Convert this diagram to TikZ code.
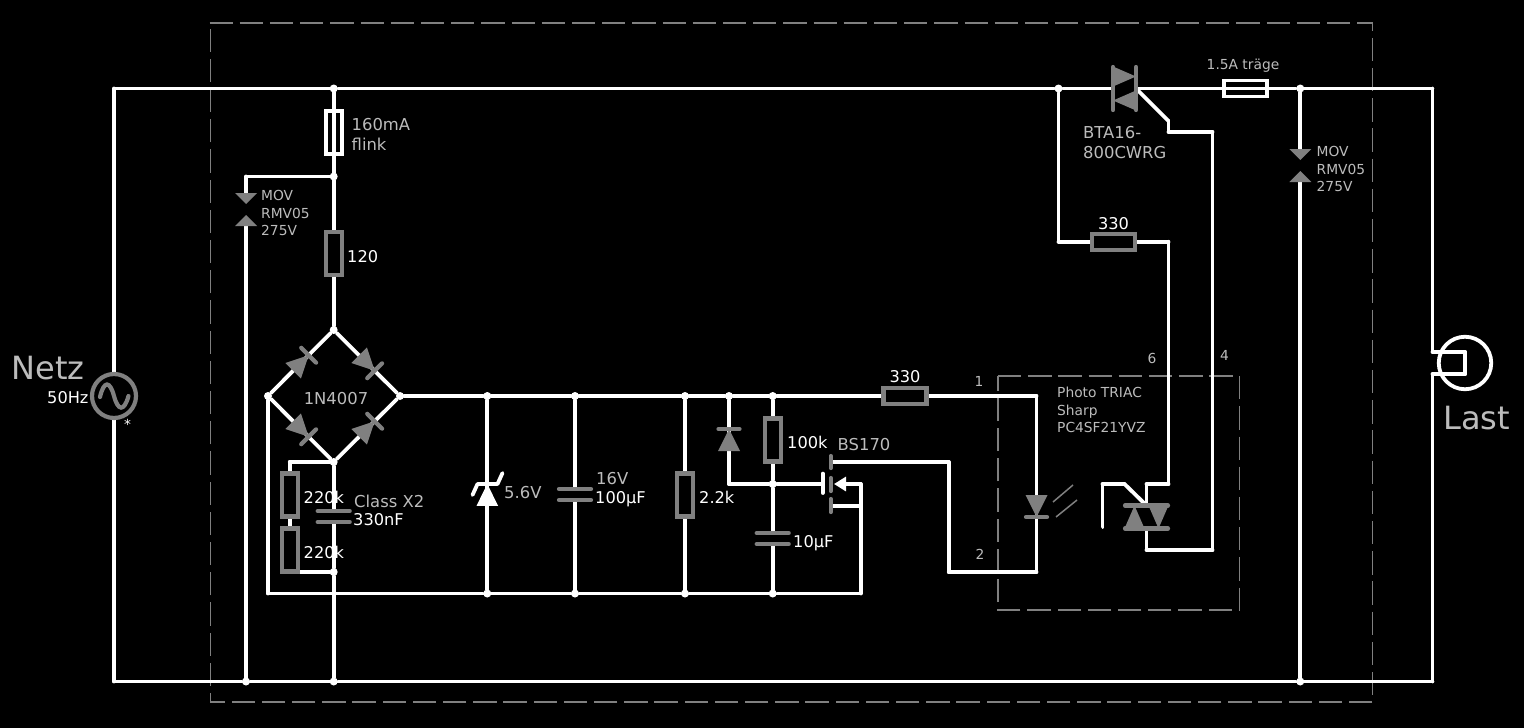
\documentclass[tikz,border=0pt]{standalone}
\usepackage{fontspec}
\setmainfont{DejaVu Sans}
\usetikzlibrary{arrows.meta, backgrounds}
\definecolor{symb}{RGB}{128, 128, 128}
\definecolor{lite}{RGB}{188, 188, 188}

\begin{document}
\begin{tikzpicture}[
   x=1pt, y=-1pt,
   wire/.style={draw=white, line width=3.8, line cap=round},
   symbar/.style={draw=symb, line width=4.2, line cap=round},
   dashbox/.style={draw=symb, line width=1.6, dash pattern=on 23.3pt off 6.9pt},
   dotj/.style={circle, fill=white, inner sep=0, minimum size=8},
   resver/.style={rectangle, draw=symb, line width=4.2, inner sep=0,
                  minimum width=16, minimum height=43},
   reshor/.style={rectangle, draw=symb, line width=4.2, inner sep=0,
                  minimum width=43, minimum height=16},
   fusever/.style={rectangle, draw=white, line width=3.8, inner sep=0,
                   minimum width=16, minimum height=43},
   fusehor/.style={rectangle, draw=white, line width=3.8, inner sep=0,
                   minimum width=43, minimum height=16},
   valtxt/.style={text=white, inner sep=0, font=\fontsize{16.2}{21}\selectfont},
   namtxt/.style={text=lite, inner sep=0, align=left, font=\fontsize{16.4}{20}\selectfont},
   smltxt/.style={text=lite, inner sep=0, align=left, font=\fontsize{13.8}{17.8}\selectfont},
   bigtxt/.style={text=lite, inner sep=0, font=\fontsize{32}{36}\selectfont},
   diode/.pic={
     \fill[symb] (-11, -11) -- (11, 0) -- (-11, 11) -- cycle;
     \draw[symbar] (11, -10.5) -- (11, 10.5);
   },
   capa/.pic={
     \draw[symbar] (-16, -5.5) -- (16, -5.5);
     \draw[symbar] (-16, 5.5) -- (16, 5.5);
     \coordinate (-t) at (0, -5.5);
     \coordinate (-b) at (0, 5.5);
   },
   mov/.pic={
     \fill[symb] (-11, -16.5) -- (11, -16.5) -- (0, -5.5) -- cycle;
     \fill[symb] (-11, 16.5) -- (11, 16.5) -- (0, 5.5) -- cycle;
     \coordinate (-t) at (0, -16.5);
     \coordinate (-b) at (0, 16.5);
   },
   triac/.pic={
     \fill[symb] (-11.5, -22) -- (-11.5, -2) -- (11.5, -12) -- cycle;
     \fill[symb] (11.5, 2) -- (11.5, 22) -- (-11.5, 12) -- cycle;
     \draw[symbar] (-11.5, -21.5) -- (-11.5, 21.5);
     \draw[symbar] (11.5, -21.5) -- (11.5, 21.5);
     \coordinate (-a) at (-11.5, 0);
     \coordinate (-b) at (11.5, 0);
   }
  ]

  \useasboundingbox (0, 0) rectangle (1524, 728);

  % Junctions
  \foreach \N/\X/\Y in {jTop/333.7/88.5, jTri/1058.5/88.5, jMovR/1300.3/88.5, jFus/333.7/176.5,
                        jBrT/333.7/330, jBrL/268/396, jBrR/400/396, jBrB/333.7/462,
                        jZt/487.3/396, jCt/575/396, jRt/685/396, jDt/729/396, jMt/772.7/396,
                        jGat/772.7/484, jLo/333.7/572, jZb/487.3/593.5, jCb/575/593.5,
                        jRb/685/593.5, jMb/772.7/593.5, jMovL/246/681.5, jBot/333.7/681.5,
                        jMovB/1300.3/681.5} {
    \node[dotj] (\N) at (\X, \Y) {};
  }

  % Corners
  \foreach \N/\X/\Y in {cTL/114/88.5, cTR/1432.5/88.5, cBL/114/681.5, cBR/1432.5/681.5,
                        cLa/1432.5/352, cLb/1465/352, cLc/1465/374, cLd/1432.5/374,
                        cMov/246/176.5, cBrg/268/593.5, cLedT/1036.5/396, cLedB/1036.5/572,
                        cDrB/948.7/572, cDrT/948.7/462, cDrain/831/462, cZd/729/484,
                        cGate/822.7/484, cSrc/831/506, cSrcR/860.7/506, cBod/860.7/593.5,
                        cBodT/860.7/484, cBodE/834/484, cRa/289.7/462, cRc/291/572,
                        c33L/1058.5/241.7, c33R/1168.5/241.7, cOpA/1168.5/484, cOpB/1146.5/484,
                        cOpC/1146.5/550, cOpD/1212.5/550, cGtC/1212.5/132, cGtB/1168.5/132,
                        cGtA/1168.5/121, cOgA/1102.5/527, cOgB/1102.5/484, cOgC/1124.5/484} {
    \coordinate (\N) at (\X, \Y);
  }

  % Parts
  \node (R120) at (333.7, 253.5) [resver] {};
  \node (R22) at (685, 495) [resver] {};
  \node (R100) at (772.7, 440) [resver] {};
  \node (R220a) at (289.7, 495) [resver] {};
  \node (R220b) at (289.7, 550) [resver] {};
  \node (R330a) at (905, 396) [reshor] {};
  \node (R330b) at (1113.3, 241.7) [reshor] {};
  \node (F160) at (333.7, 132.5) [fusever] {};
  \node (F150) at (1245.5, 88.5) [fusehor] {};

  \node (src) at (114, 396) [circle, draw=symb, line width=4.2, inner sep=0, minimum size=44] {};
  \draw[symb, line width=4.2, line cap=round] (100, 397) .. controls (104, 380) and (110, 381) .. (114, 396)
    .. controls (118, 411) and (124, 412) .. (128.5, 396);
  \node (load) at (1465, 363) [circle, draw=white, line width=3.8, inner sep=0, minimum size=52.5] {};

  \pic (dTL) [rotate=45] at (300.9, 363) {diode};
  \pic (dTR) [rotate=-45] at (366.9, 363) {diode};
  \pic (dBL) [rotate=-45] at (300.9, 429) {diode};
  \pic (dBR) [rotate=45] at (366.9, 429) {diode};
  \pic (dCl) [rotate=90] at (729, 440) {diode};
  \pic (dLed) [rotate=-90] at (1036.5, 506) {diode};

  \pic (capX) at (333.7, 516.5) {capa};
  \pic (capA) at (575, 494.5) {capa};
  \pic (capC) at (772.7, 538.5) {capa};

  \pic (movL) at (246, 209.5) {mov};
  \pic (movR) at (1300.3, 165.5) {mov};

  \pic (triB) at (1124.5, 88.5) {triac};
  \pic (triS) [rotate=90] at (1146.5, 517) {triac};

  % Zener
  \fill[white] (476.5, 505.8) -- (498.1, 505.8) -- (487.3, 484) -- cycle;
  \draw[wire, line join=round] (472.5, 495) -- (477.5, 484) -- (497.5, 484) -- (502.5, 473);

  % BS170
  \draw[wire] (822.7, 473.6) -- (822.7, 493);
  \draw[symbar] (830.7, 456) -- (830.7, 468);
  \draw[symbar] (830.7, 478) -- (830.7, 491);
  \draw[symbar] (830.7, 499) -- (830.7, 512);

  % Light from the LED
  \draw[symb, line width=1.5] (1053, 502) -- (1073, 485);
  \draw[symb, line width=1.5] (1056, 517) -- (1077, 500);

  % Wires under the parts
  \begin{scope}[on background layer]
    \fill[black] (0, 0) rectangle (1524, 728);
    \draw[dashbox] (209.5, 23) -- (1372.5, 23) -- (1372.5, 702) -- (210.5, 702) -- (210.5, 23);
    \draw[dashbox] (998, 376) -- (1239.5, 376) -- (1239.5, 610) -- (998, 610) -- (998, 376);

    \foreach \B/\E in {cTL/jTop, jTop/jTri, jTri/triB-a, triB-b/jMovR, jMovR/cTR,
                       cTL/src, src/cBL, cBL/jMovL, jMovL/jBot, jBot/jMovB, jMovB/cBR,
                       cTR/cLa, cLa/cLb, cLb/cLc, cLc/cLd, cLd/cBR,
                       jTop/jFus, jFus/R120, R120/jBrT, jFus/cMov, cMov/movL-t, movL-b/jMovL,
                       jMovR/movR-t, movR-b/jMovB,
                       jBrT/jBrL, jBrL/jBrB, jBrB/jBrR, jBrR/jBrT,
                       jBrL/cBrg, cBrg/jZb, jZb/jCb, jCb/jRb, jRb/jMb, jMb/cBod, cBod/cBodT,
                       jBrR/jZt, jZt/jCt, jCt/jRt, jRt/jDt, jDt/jMt, jMt/R330a, R330a/cLedT,
                       cLedT/cLedB, cLedB/cDrB, cDrB/cDrT, cDrT/cDrain,
                       jZt/jZb, jCt/capA-t, capA-b/jCb, jRt/R22, R22/jRb,
                       jDt/cZd, cZd/jGat, jMt/R100, R100/jGat, jGat/cGate,
                       jGat/capC-t, capC-b/jMb, cSrc/cSrcR,
                       jBrB/cRa, cRa/R220a, R220a/R220b, cRc/jLo,
                       jBrB/capX-t, capX-b/jLo, jLo/jBot,
                       jTri/c33L, c33L/R330b, R330b/c33R, c33R/cOpA, cOpA/cOpB, cOpB/triS-b,
                       triS-a/cOpC, cOpC/cOpD, cOpD/cGtC, cGtC/cGtB, cGtB/cGtA, cGtA/triB-b,
                       cOgA/cOgB, cOgB/cOgC, cOgC/triS-b} {
      \draw[wire] (\B) -- (\E);
    }
    \draw[wire, -{Triangle[length=12pt, width=14pt]}] (cBodT) -- (cBodE);
  \end{scope}

  % Labels
  \node (tNetz) at (11.5, 379.5) [bigtxt, anchor=base west] {Netz};
  \node (tLast) at (1443, 429) [bigtxt, anchor=base west] {Last};
  \node (tHz) at (47, 403.5) [valtxt, anchor=base west] {50Hz};
  \node (tStar) at (127.5, 429) [valtxt, font=\fontsize{13.8}{16}\selectfont, anchor=base] {*};
  \node (tF160) at (351.5, 134.5) [namtxt, anchor=west] {160mA\\flink};
  \node (tMovL) at (261, 213) [smltxt, anchor=west] {MOV\\RMV05\\275V};
  \node (tMovR) at (1316.5, 169) [smltxt, anchor=west] {MOV\\RMV05\\275V};
  \node (t120) at (347, 262) [valtxt, anchor=base west] {120};
  \node (t1N) at (336, 404) [namtxt, anchor=base] {1N4007};
  \node (t220a) at (303.5, 503.5) [valtxt, anchor=base west] {220k};
  \node (t220b) at (303.5, 558.5) [valtxt, anchor=base west] {220k};
  \node (tCls) at (354, 507) [namtxt, anchor=base west] {Class X2};
  \node (t330n) at (353, 525) [valtxt, anchor=base west] {330nF};
  \node (tZen) at (504, 498.5) [namtxt, anchor=base west] {5.6V};
  \node (t16V) at (596, 484) [namtxt, anchor=base west] {16V};
  \node (t100u) at (595, 503) [valtxt, anchor=base west] {100µF};
  \node (t2k2) at (699, 503) [valtxt, anchor=base west] {2.2k};
  \node (t100k) at (787, 448) [valtxt, anchor=base west] {100k};
  \node (tBS) at (837.5, 450) [namtxt, anchor=base west] {BS170};
  \node (t10u) at (793, 547) [valtxt, anchor=base west] {10µF};
  \node (t330a) at (905, 382) [valtxt, anchor=base] {330};
  \node (t330b) at (1113.5, 229) [valtxt, anchor=base] {330};
  \node (tP1) at (979, 386) [smltxt, anchor=base] {1};
  \node (tP2) at (980, 559) [smltxt, anchor=base] {2};
  \node (tP6) at (1152, 363) [smltxt, anchor=base] {6};
  \node (tP4) at (1224.5, 360) [smltxt, anchor=base] {4};
  \node (tOpt) at (1057, 410) [smltxt, anchor=west] {Photo TRIAC\\Sharp\\PC4SF21YVZ};
  \node (tF150) at (1243, 69) [smltxt, anchor=base] {1.5A träge};
  \node (tBTA) at (1083, 143) [namtxt, anchor=west] {BTA16-\\800CWRG};

\end{tikzpicture}
\end{document}
